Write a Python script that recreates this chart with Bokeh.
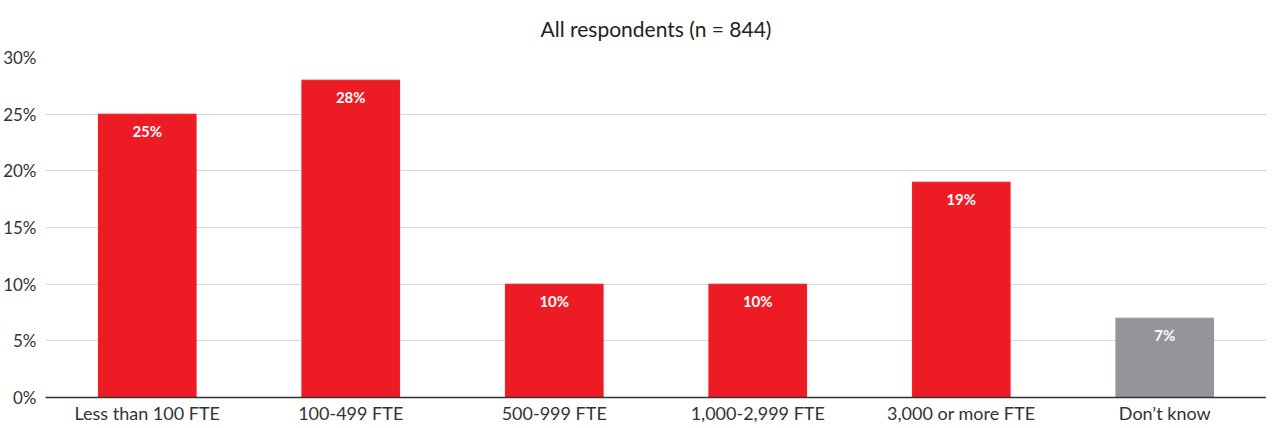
from bokeh.plotting import figure
from bokeh.models import ColumnDataSource, FactorRange, Range1d, FixedTicker, CustomJSTickFormatter
from bokeh.core.properties import value
from bokeh.embed import file_html
from bokeh.resources import INLINE

title_text = "All respondents (n = 844)"
categories = ["Less than 100 FTE", "100-499 FTE", "500-999 FTE", "1,000-2,999 FTE", "3,000 or more FTE", "Don\u2019t know"]
values = [25, 28, 10, 10, 19, 7]
colors = ["#ED1C24", "#ED1C24", "#ED1C24", "#ED1C24", "#ED1C24", "#939598"]
labels = [f"{v}%" for v in values]
y_ticks = [0, 5, 10, 15, 20, 25, 30]

FONT = "Lato"

src = ColumnDataSource(dict(cat=categories, val=values, color=colors, label=labels))

p = figure(width=1266, height=426, x_range=FactorRange(*categories, range_padding=0),
           y_range=Range1d(0, 30), output_backend="svg", toolbar_location=None,
           title=title_text,
           min_border_left=41, min_border_right=0, min_border_top=57, min_border_bottom=0)

p.title.align = "center"
p.title.vertical_align = "top"
p.title.text_font = FONT
p.title.text_font_size = "21px"
p.title.text_font_style = "normal"
p.title.text_color = "#222222"
p.title.standoff = 29

p.vbar(x="cat", top="val", width=0.48, color="color", source=src)
p.text(x="cat", y="val", text="label", source=src, text_color="white",
       text_font=value(FONT), text_font_style="bold", text_font_size="15px",
       text_align="center", text_baseline="top", y_offset=8)

p.outline_line_color = None
p.xgrid.grid_line_color = None
p.ygrid.grid_line_color = "#d9d9d9"
p.ygrid.grid_line_width = 1

p.yaxis.ticker = FixedTicker(ticks=y_ticks)
p.yaxis.formatter = CustomJSTickFormatter(code="return tick + '%';")
p.yaxis.axis_line_color = None
p.yaxis.major_tick_line_color = None
p.yaxis.minor_tick_line_color = None
p.yaxis.major_tick_out = 0
p.yaxis.major_tick_in = 0
p.yaxis.minor_tick_out = 0
p.yaxis.major_label_standoff = 9
p.yaxis.major_label_text_font = FONT
p.yaxis.major_label_text_font_size = "17px"
p.yaxis.major_label_text_color = "#333333"

p.xaxis.axis_line_color = "#333333"
p.xaxis.axis_line_width = 1.5
p.xaxis.major_tick_line_color = None
p.xaxis.minor_tick_line_color = None
p.xaxis.major_tick_out = 0
p.xaxis.major_tick_in = 0
p.xaxis.minor_tick_out = 0
p.xaxis.axis_label_standoff = 0
p.xaxis.major_label_standoff = 4
p.xaxis.major_label_text_font = FONT
p.xaxis.major_label_text_font_size = "18px"
p.xaxis.major_label_text_color = "#333333"

open("out.html", "w").write(file_html(p, INLINE))
